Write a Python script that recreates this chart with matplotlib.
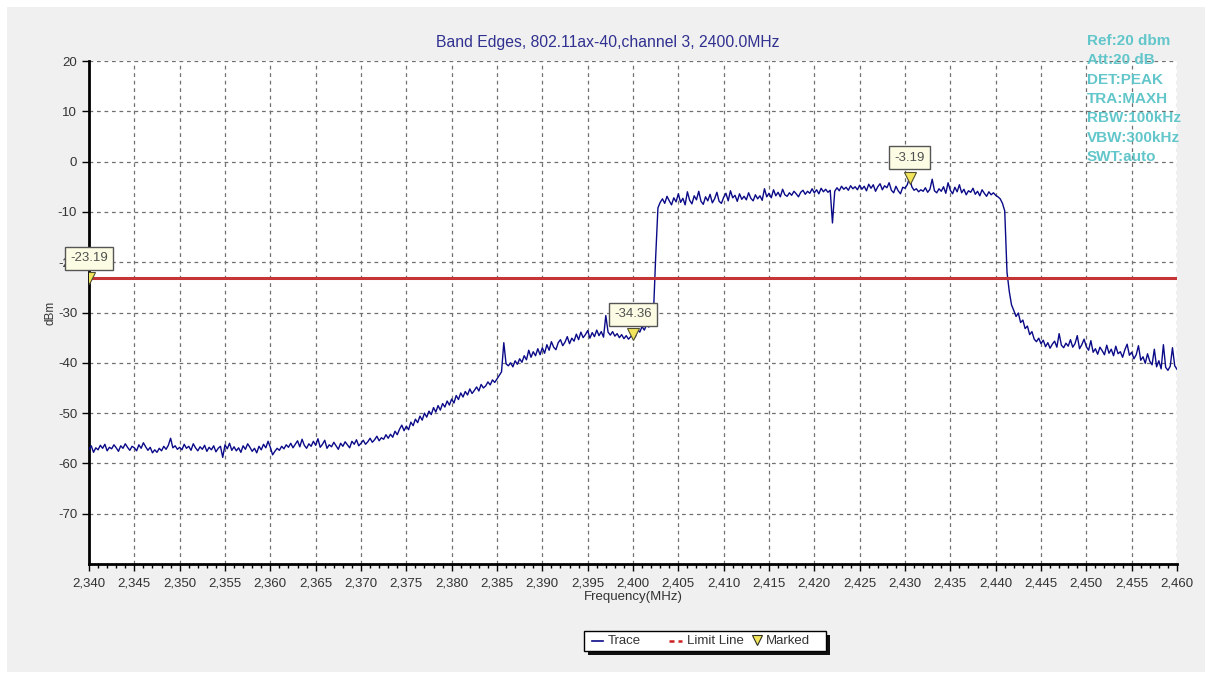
import numpy as np
import matplotlib
matplotlib.use("Agg")
import matplotlib.pyplot as plt
from matplotlib.ticker import MultipleLocator, FuncFormatter
from matplotlib.patches import Rectangle
from matplotlib.lines import Line2D

plt.rcParams["font.family"] = ["Liberation Sans", "DejaVu Sans"]
plt.rcParams["axes.unicode_minus"] = False

# ---- data -------------------------------------------------------------
title_text = "Band Edges, 802.11ax-40,channel 3, 2400.0MHz"
f_start_mhz = 2340.0
f_stop_mhz = 2460.0

# Max-hold trace, dBm, one row per 5 MHz (0.25 MHz steps)
trace_dbm = [
    -57.2, -56.5, -57.8, -56.9, -57.3, -56.4, -57.0, -56.2, -57.5, -56.8, -57.1, -56.3, -56.9, -57.6, -56.5, -57.0, -56.1, -56.8, -57.4, -56.6,
    -56.9, -57.5, -56.3, -57.0, -55.9, -56.7, -57.4, -56.8, -57.9, -57.3, -57.8, -57.0, -57.5, -56.6, -57.2, -56.4, -55.0, -56.9, -56.5, -57.2,
    -56.8, -57.3, -56.2, -57.0, -56.6, -57.4, -56.1, -56.9, -57.5, -56.7, -57.2, -56.4, -57.6, -56.8, -57.3, -56.5, -57.7, -57.0, -56.6, -58.8,
    -56.3, -57.1, -56.0, -57.4, -56.7, -57.5, -56.9, -57.8, -56.5, -57.2, -56.1, -56.8, -57.6, -57.0, -57.9, -56.6, -57.3, -56.2, -56.9, -55.6,
    -56.8, -58.3, -57.6, -57.0, -57.4, -56.6, -57.1, -56.3, -56.8, -56.0, -56.9, -56.2, -55.5, -56.7, -55.2, -56.4, -57.0, -56.1, -56.6, -55.6,
    -56.4, -55.1, -56.8, -56.2, -55.4, -57.0, -56.3, -56.7, -55.8, -56.5, -57.2, -56.0, -56.6, -55.7, -56.3, -56.9, -55.6, -56.2, -55.3, -56.5,
    -56.0, -55.4, -56.2, -55.7, -55.0, -55.8, -55.3, -54.6, -55.5, -54.9, -55.2, -54.3, -55.0, -54.2, -54.8, -53.6, -54.3, -53.2, -52.4, -53.5,
    -52.6, -53.3, -51.8, -52.5, -51.2, -51.9, -50.6, -51.4, -50.0, -50.8, -49.6, -50.3, -48.9, -49.8, -48.5, -49.4, -48.1, -48.8, -47.6, -48.4,
    -47.2, -48.0, -46.5, -47.3, -46.0, -46.8, -45.7, -46.4, -45.2, -46.1, -45.5, -44.8, -45.6, -44.3, -45.0, -44.6, -43.8, -44.4, -43.4, -43.9,
    -43.2, -42.5, -41.8, -36.0, -40.2, -40.6, -40.0, -40.8, -39.6, -40.3, -39.2, -39.9, -38.6, -39.4, -37.5, -38.9, -37.8, -38.6, -37.2, -38.4,
    -37.0, -38.1, -36.4, -37.5, -35.8, -36.9, -37.4, -36.0, -35.4, -36.6, -35.9, -34.8, -36.2, -35.1, -35.7, -34.3, -35.4, -33.9, -35.0, -34.4,
    -33.6, -35.1, -34.0, -34.8, -33.5, -34.6, -33.8, -34.9, -30.6, -33.9, -34.5, -33.8, -34.7, -34.2, -35.0, -34.4, -35.2, -34.6, -35.3, -34.8,
    -34.36, -34.9, -33.4, -33.9, -32.8, -33.5, -32.4, -32.9, -32.0, -30.5, -19.0, -9.2, -8.1, -7.4, -8.3, -6.9, -7.8, -8.6, -7.2, -8.0,
    -6.4, -8.1, -7.3, -8.6, -6.0, -7.7, -8.4, -6.8, -7.6, -5.9, -7.9, -8.5, -7.0, -7.8, -6.5, -8.2, -7.4, -6.1, -7.9, -8.3,
    -7.1, -6.3, -7.8, -5.8, -7.2, -6.7, -7.9, -6.4, -7.5, -6.9, -7.6, -6.2, -7.3, -7.8, -6.6, -7.4, -6.8, -7.7, -5.4, -7.0,
    -6.3, -7.2, -5.6, -6.8, -6.1, -7.0, -5.5, -6.6, -6.9, -6.2, -6.7, -5.9, -6.4, -7.0, -6.1, -5.7, -6.5, -5.9, -6.3, -5.4,
    -6.2, -5.6, -6.4, -5.3, -6.0, -5.5, -6.1, -5.7, -12.2, -5.9, -5.2, -5.8, -4.9, -5.5, -5.1, -5.7, -4.8, -5.4, -5.0, -5.6,
    -4.7, -5.5, -4.9, -5.8, -4.5, -5.3, -4.6, -5.9, -5.0, -4.4, -5.6, -4.8, -5.2, -4.2, -5.7, -6.2, -4.9, -5.8, -6.4, -5.1,
    -5.3, -4.6, -3.19, -5.0, -5.7, -5.4, -6.0, -5.6, -5.9, -5.2, -6.1, -5.5, -3.5, -5.8, -6.2, -5.4, -5.9, -5.0, -6.3, -4.2,
    -5.7, -6.4, -5.1, -6.0, -4.6, -6.2, -5.5, -6.6, -5.8, -6.1, -5.3, -6.5, -5.9, -6.8, -5.6, -6.3, -6.9, -6.0, -6.6, -6.2,
    -6.7, -7.0, -7.4, -8.3, -9.8, -22.0, -25.8, -28.5, -29.6, -30.8, -30.1, -32.0, -31.5, -33.2, -32.7, -34.4, -33.8, -35.3, -35.8, -35.1,
    -36.2, -35.5, -36.8, -36.0, -37.1, -36.3, -35.7, -36.9, -34.2, -36.5, -37.0, -36.1, -36.7, -35.4, -36.9, -36.2, -34.6, -37.2, -36.4, -35.3,
    -36.8, -37.5, -35.6, -37.9, -37.2, -38.3, -36.9, -37.6, -38.4, -36.5, -38.1, -37.3, -38.6, -36.7, -38.2, -37.8, -38.9, -37.4, -36.3, -38.5,
    -37.9, -39.2, -38.4, -36.6, -39.5, -38.8, -40.1, -38.2, -39.7, -40.4, -37.3, -40.8, -39.6, -41.2, -36.4, -40.9, -41.5, -40.7, -37.0, -40.6,
    -41.3,
]

limit_dbm = -23.19
marker_freqs_mhz = [2340.0, 2400.0, 2430.5]
marker_labels = ["-23.19", "-34.36", "-3.19"]
marker_values_dbm = [-23.19, -34.36, -3.19]

info_lines = ["Ref:20 dbm", "Att:20 dB", "DET:PEAK", "TRA:MAXH",
              "RBW:100kHz", "VBW:300kHz", "SWT:auto"]

y_ticks = [20, 10, 0, -10, -20, -30, -40, -50, -60, -70]

# ---- figure -----------------------------------------------------------
W, H = 1211, 679
fig = plt.figure(figsize=(W / 100, H / 100), dpi=100, facecolor="white")


def fx(x):
    return x / W


def fy(y):
    return 1 - y / H


# grey panel behind everything
bg = fig.add_axes([0, 0, 1, 1], zorder=-5)
bg.set_xlim(0, W)
bg.set_ylim(H, 0)
bg.axis("off")
bg.add_patch(Rectangle((7, 7), 1198, 665, facecolor="#f0f0f0", edgecolor="none"))

ax = fig.add_axes([fx(89), fy(564), fx(1177) - fx(89), fy(61) - fy(564)], zorder=1)
ax.set_facecolor("white")

freq = np.linspace(f_start_mhz, f_stop_mhz, len(trace_dbm))
trace = np.array(trace_dbm)

ax.plot(freq, trace, color="#0a0a88", lw=1.0, zorder=3)
ax.axhline(limit_dbm, color="#c53535", lw=2.2, zorder=4)

ax.set_xlim(f_start_mhz, f_stop_mhz)
ax.set_ylim(-80, 20)
ax.xaxis.set_major_locator(MultipleLocator(5))
ax.xaxis.set_minor_locator(MultipleLocator(1))
ax.set_yticks(y_ticks)
ax.xaxis.set_major_formatter(FuncFormatter(lambda v, p: f"{int(round(v)):,}"))

ax.grid(True, which="major", color="#707070", linestyle=(0, (3, 3)), lw=0.9)
ax.set_axisbelow(True)

for s in ["top", "right"]:
    ax.spines[s].set_visible(False)
for s in ["left", "bottom"]:
    ax.spines[s].set_linewidth(2.0)
    ax.spines[s].set_color("black")

ax.tick_params(axis="both", which="major", direction="out", length=5, width=1,
               labelsize=9.5, labelcolor="#333333", colors="black")
ax.tick_params(axis="x", which="major", pad=5)
ax.tick_params(axis="x", which="minor", direction="out", length=3, width=1)
for lbl in ax.get_xticklabels() + ax.get_yticklabels():
    lbl.set_color("#333333")

ax.set_xlabel("Frequency(MHz)", fontsize=9.5, color="#333333", labelpad=1)
ax.set_ylabel("dBm", fontsize=8.5, color="#333333", labelpad=1)

# markers with value boxes
for f, v, lab in zip(marker_freqs_mhz, marker_values_dbm, marker_labels):
    ax.plot([f], [v], marker="v", ms=9, mfc="#f2e55c", mec="#505030", mew=0.8,
            ls="none", zorder=6, clip_on=True)
    ax.annotate(lab, xy=(f, v), xytext=(0, 20), textcoords="offset pixels",
                ha="center", va="center", fontsize=9.5, color="#505050",
                annotation_clip=False, zorder=7,
                bbox=dict(boxstyle="square,pad=0.4", fc="#fcfce4", ec="#555555", lw=1))

# title and instrument settings
fig.text(fx(608), fy(42), title_text, ha="center", va="center",
         fontsize=11.3, color="#303090")
for i, line in enumerate(info_lines):
    fig.text(fx(1087), fy(41 + i * 19.3), line, ha="left", va="center",
             fontsize=11, color="#62c6ca", fontweight="bold", zorder=10)

# legend box with drop shadow
lg = fig.add_axes([0, 0, 1, 1], zorder=5)
lg.set_xlim(0, W)
lg.set_ylim(H, 0)
lg.axis("off")
lg.add_patch(Rectangle((588, 635), 242, 20, facecolor="#101010", edgecolor="none"))
lg.add_patch(Rectangle((584, 631), 242, 20, facecolor="white", edgecolor="black", lw=1))
lg.add_line(Line2D([592, 603], [641, 641], color="#0a0a88", lw=1.2))
lg.text(608, 641.5, "Trace", fontsize=9.5, va="center", ha="left", color="#333333")
lg.add_line(Line2D([669, 682], [641, 641], color="#cc2020", lw=1.8, ls=(0, (2, 1.6))))
lg.text(687, 641.5, "Limit Line", fontsize=9.5, va="center", ha="left", color="#333333")
lg.plot([757], [640], marker="v", ms=7, mfc="#f2e55c", mec="#303020", mew=0.8)
lg.text(766, 641.5, "Marked", fontsize=9.5, va="center", ha="left", color="#333333")

fig.savefig("out.png", dpi=100, facecolor=fig.get_facecolor())
